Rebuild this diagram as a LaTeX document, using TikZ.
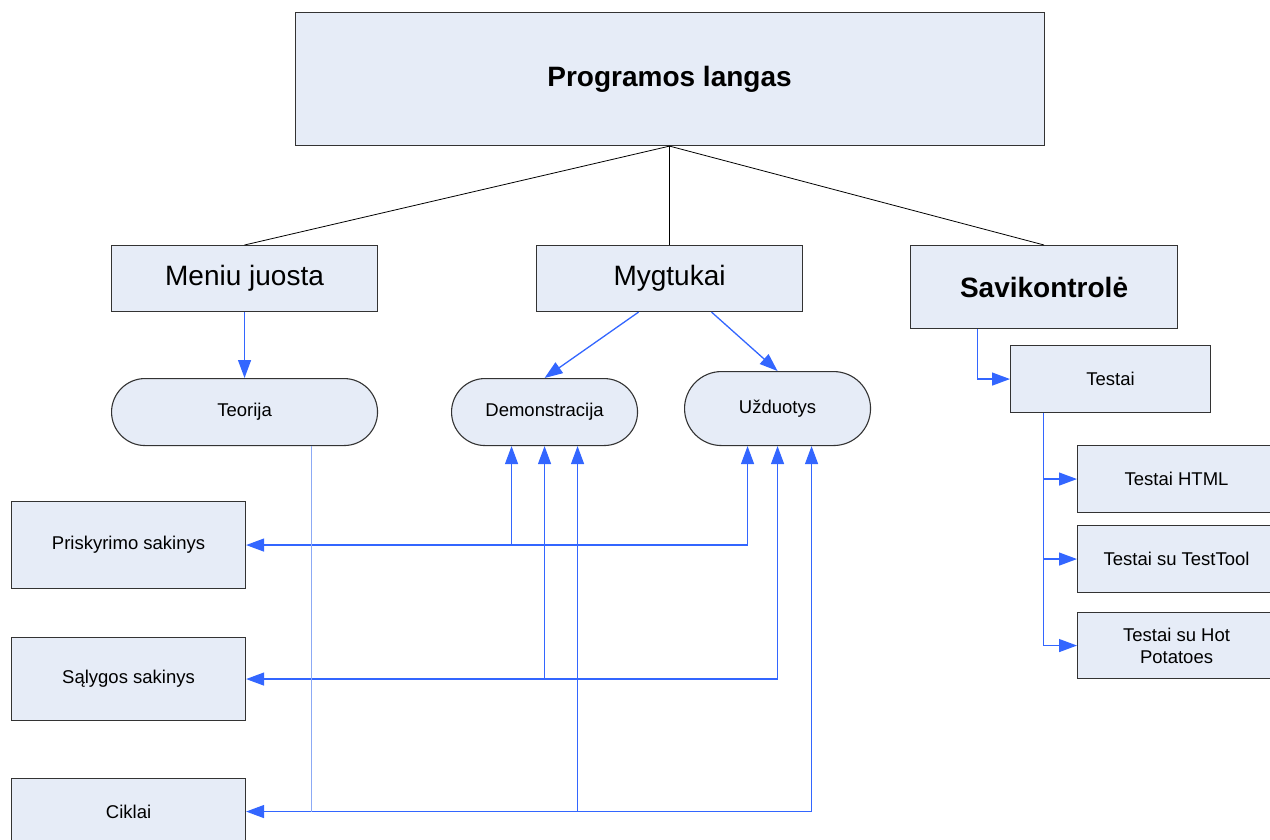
\documentclass[tikz,border=0pt]{standalone}
\usepackage{fontspec}
\setmainfont{Liberation Sans}
\usetikzlibrary{arrows.meta}
\definecolor{boxfill}{HTML}{E6ECF7}
\definecolor{boxline}{HTML}{333333}
\definecolor{linkblue}{HTML}{3366FF}
\definecolor{linkpale}{HTML}{8CAAF5}
\begin{document}
\begin{tikzpicture}[x=1pt,y=-1pt,
  box/.style={draw=boxline,line width=1.1pt,fill=boxfill,rectangle,anchor=north west,
    inner sep=0pt,align=center,font=\fontsize{18.5}{22}\selectfont},
  bigbox/.style={box,font=\fontsize{28}{34}\selectfont},
  pill/.style={box,rounded corners=#1},
  tree/.style={draw=black,line width=0.8pt},
  link/.style={draw=linkblue,line width=1.3pt},
  tip/.style={-{Triangle[length=18pt,width=13pt]}},
  tips/.style={{Triangle[length=18pt,width=13pt]}-{Triangle[length=18pt,width=13pt]}}]
\useasboundingbox (0,0) rectangle (1270,839);

% top level
\node[bigbox,minimum width=749pt,minimum height=133pt,font=\fontsize{28}{34}\selectfont\bfseries]
  (top) at (294.5,12) {Programos langas};

% second level
\node[bigbox,minimum width=266pt,minimum height=66pt] (menu) at (111,245) {Meniu juosta};
\node[bigbox,minimum width=266pt,minimum height=66pt] (btn) at (536,245) {Mygtukai};
\node[bigbox,minimum width=267pt,minimum height=83pt,font=\fontsize{28}{34}\selectfont\bfseries]
  (savi) at (910,245) {Savikontrolė};

% rounded items
\node[pill=33.5pt,minimum width=266pt,minimum height=67pt] (teor) at (111,378) {Teorija};
\node[pill=33.5pt,minimum width=186pt,minimum height=67pt] (demo) at (451,378) {Demonstracija};
\node[pill=37pt,minimum width=186pt,minimum height=74pt] (uzd) at (684,371) {Užduotys};

% left column
\node[box,minimum width=234pt,minimum height=87pt] (prisk) at (11,501) {Priskyrimo sakinys};
\node[box,minimum width=234pt,minimum height=83pt] (salyg) at (11,637) {Sąlygos sakinys};
\node[box,minimum width=234pt,minimum height=66pt] (cikl) at (11,778) {Ciklai};

% tests
\node[box,minimum width=200pt,minimum height=67pt] (testai) at (1010,345) {Testai};
\node[box,minimum width=198pt,minimum height=67pt] (html) at (1077,445) {Testai HTML};
\node[box,minimum width=198pt,minimum height=67pt] (ttool) at (1077,525) {Testai su TestTool};
\node[box,minimum width=198pt,minimum height=66pt] (hotp) at (1077,612) {Testai su Hot\\Potatoes};

% hierarchy lines
\draw[tree] (top.south) -- (menu.north);
\draw[tree] (top.south) -- (btn.north);
\draw[tree] (top.south) -- (savi.north);

% menu and buttons
\draw[link,tip] (menu.south) -- (teor.north);
\draw[link,tip] ([xshift=-31pt]btn.south) -- (demo.north);
\draw[link,tip] ([xshift=42pt]btn.south) -- (uzd.north);

% self-check branch
\draw[link,tip] ([xshift=-66.5pt]savi.south) |- (testai.west);
\coordinate (tbus) at ([xshift=-67pt]testai.south);
\draw[link] (tbus) -- (tbus |- hotp.west);
\draw[link,tip] (tbus |- html.west) -- (html.west);
\draw[link,tip] (tbus |- ttool.west) -- (ttool.west);
\draw[link,tip] (tbus |- hotp.west) -- (hotp.west);

% topic links
\coordinate (d1) at ([xshift=-33pt]demo.south);
\coordinate (d2) at (demo.south);
\coordinate (d3) at ([xshift=33pt]demo.south);
\coordinate (u1) at ([xshift=-30pt]uzd.south);
\coordinate (u2) at (uzd.south);
\coordinate (u3) at ([xshift=34pt]uzd.south);
\coordinate (t1) at ([xshift=67pt]teor.south);

\draw[link,tips] (u1) |- (prisk.east);
\draw[link,tip] (d1 |- prisk.east) -- (d1);
\draw[link,tips] (u2) |- (salyg.east);
\draw[link,tip] (d2 |- salyg.east) -- (d2);
\draw[link,tips] (u3) |- (cikl.east);
\draw[link,tip] (d3 |- cikl.east) -- (d3);
\draw[link,draw=linkpale] (t1) -- (t1 |- cikl.east);
\end{tikzpicture}
\end{document}
